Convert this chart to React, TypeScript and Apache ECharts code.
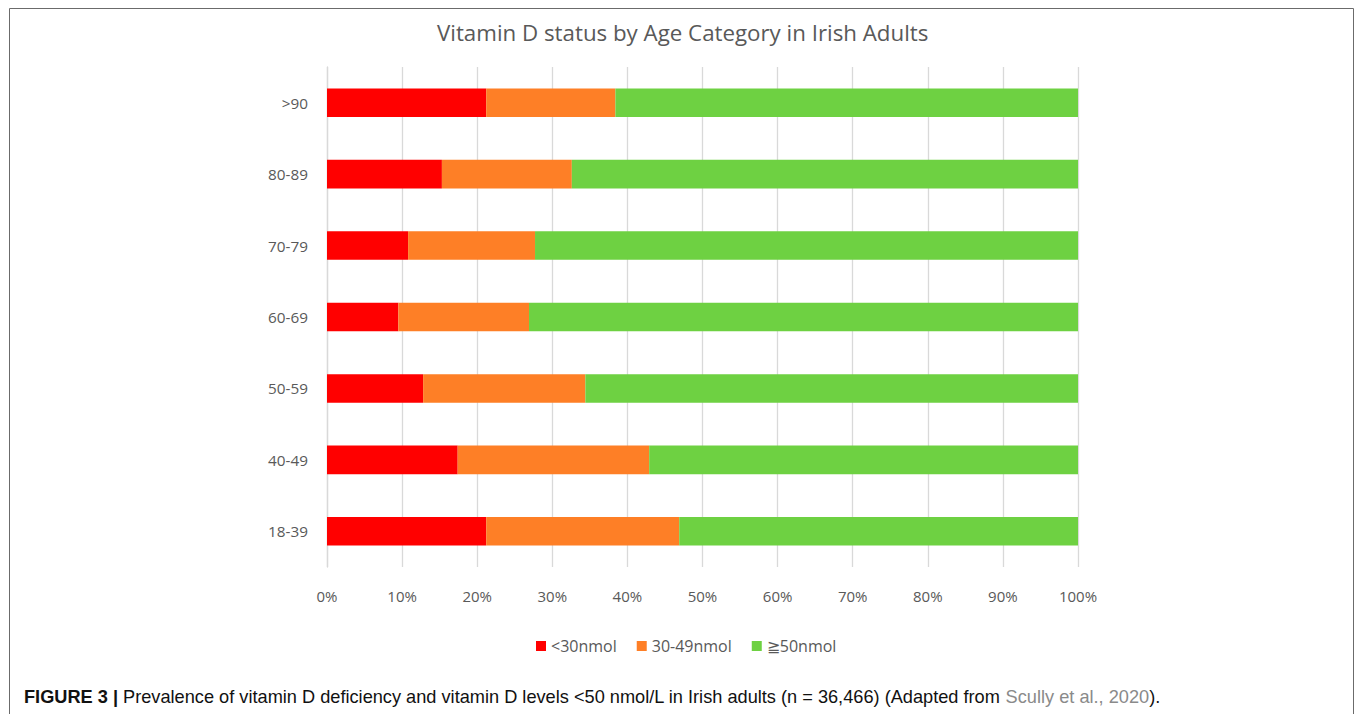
import React, { useEffect, useRef } from "react";
import * as echarts from "echarts";

const categories = ["18-39", "40-49", "50-59", "60-69", "70-79", "80-89", ">90"];
const seriesNames = ["<30nmol", "30-49nmol", "≧50nmol"];
const below30 = [21.2, 17.4, 12.8, 9.5, 10.8, 15.3, 21.2];
const from30to49 = [25.7, 25.5, 21.6, 17.4, 16.9, 17.3, 17.2];
const above50 = [53.1, 57.1, 65.6, 73.1, 72.3, 67.4, 61.6];
const colors = ["#FF0000", "#FE7F26", "#6ED142"];

const titleText = "Vitamin D status by Age Category in Irish Adults";

export default function App() {
  const ref = useRef<HTMLDivElement>(null);
  useEffect(() => {
    if (!ref.current) return;
    const chart = echarts.init(ref.current, null, { renderer: "svg" });
    const font = "'Open Sans', 'Noto Sans', sans-serif";
    const capFont = "'Liberation Sans', Arial, sans-serif";
    const values = [below30, from30to49, above50];
    chart.setOption({
      animation: false,
      backgroundColor: "#ffffff",
      title: {
        text: titleText,
        left: 432,
        top: 16,
        textStyle: { fontFamily: font, fontSize: 22.3, fontWeight: "normal", color: "#595959" },
      },
      legend: {
        bottom: 55,
        left: 531,
        icon: "rect",
        itemWidth: 10,
        itemHeight: 10,
        itemGap: 20,
        textStyle: { fontFamily: font, fontSize: 16, color: "#595959" },
        data: seriesNames,
      },
      grid: { left: 327, right: 277, top: 67, bottom: 147, containLabel: false },
      xAxis: {
        type: "value",
        min: 0,
        max: 100,
        interval: 10,
        axisLine: { show: false },
        axisTick: { show: false },
        splitLine: { show: true, lineStyle: { color: "#d9d9d9", width: 1.3 } },
        axisLabel: {
          formatter: "{value}%",
          margin: 21,
          fontFamily: font,
          fontSize: 15,
          color: "#595959",
        },
      },
      yAxis: {
        type: "category",
        data: categories,
        axisLine: { show: true, lineStyle: { color: "#d9d9d9", width: 1.3 } },
        axisTick: { show: false },
        axisLabel: { margin: 19, fontFamily: font, fontSize: 15.3, color: "#595959" },
      },
      series: seriesNames.map((name, i) => ({
        name,
        type: "bar",
        stack: "total",
        barWidth: "40%",
        data: values[i],
        itemStyle: { color: colors[i] },
      })),
      graphic: [
        {
          type: "rect",
          shape: { x: 9.5, y: 8.5, width: 1344, height: 720 },
          style: { fill: "none", stroke: "#6b6b6b", lineWidth: 1 },
          silent: true,
        },
        {
          type: "text",
          x: 24,
          y: 697,
          style: {
            text: "{b|FIGURE 3 |} Prevalence of vitamin D deficiency and vitamin D levels <50 nmol/L in Irish adults (n = 36,466) (Adapted from {g|Scully et al., 2020}).",
            fontFamily: capFont,
            fontSize: 18.2,
            fill: "#111111",
            verticalAlign: "middle",
            rich: {
              b: { fontFamily: capFont, fontSize: 18.2, fontWeight: "bold", fill: "#111111" },
              g: { fontFamily: capFont, fontSize: 18.2, fill: "#8a8a8a" },
            },
          },
        },
      ],
    });
    return () => chart.dispose();
  }, []);
  return (
    <div
      ref={ref}
      style={{ position: "absolute", left: 0, top: 0, width: 1355, height: 714 }}
    />
  );
}
